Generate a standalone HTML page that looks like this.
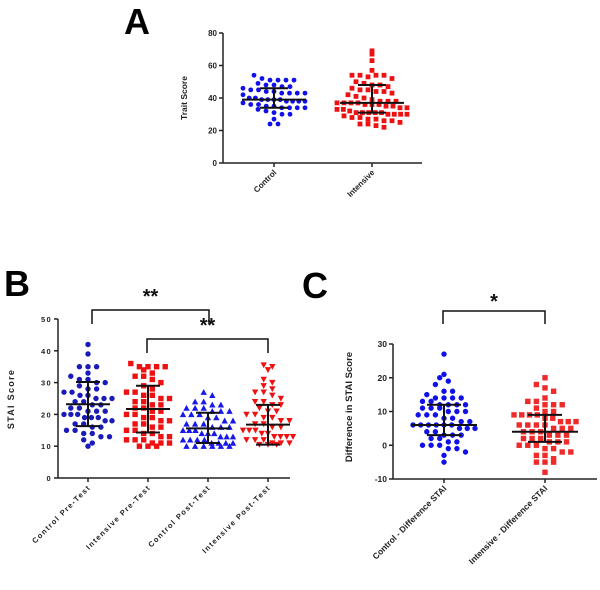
<!DOCTYPE html>
<html><head><meta charset="utf-8">
<style>
html,body{margin:0;padding:0;background:#fff;}
svg{display:block;font-family:"Liberation Sans",Arial,sans-serif;}
</style></head>
<body>
<svg id="fig" width="600" height="590" viewBox="0 0 600 590" xmlns="http://www.w3.org/2000/svg">
<rect width="600" height="590" fill="#fff"/>
<text x="124" y="34" font-size="36" font-weight="bold">A</text>
<text x="4" y="296" font-size="36" font-weight="bold">B</text>
<text x="302" y="298" font-size="36" font-weight="bold">C</text>
</svg>
<script>
// ---- Panel A data ----
const aCategories = ["Control","Intensive"];
const aControl = [54,52,51,51,51,51,49,48,48,47,47,46,45,45,44,44,43,43,43,43,42,40,40,39,39,39,39,38,38,38,38,37,36,36,35,35,34,34,34,34,33,32,31,30,30,27,24,24];
const aIntensive = [69,67,63,57,54,54,53,54,54,52,50,49,48,48,47,46,45,45,44,44,43,42,41,40,39,38,38,38,37,37,37,37,36,36,36,35,35,34,34,33,33,32,31,31,31,31,31,30,30,30,30,29,28,28,27,27,26,26,25,24,24,23,22];
const aMean = [39,37];
const aLow = [34,31];
const aHigh = [46,48];
const aTicks = [0,20,40,60,80];
// ---- Panel B data ----
const bCategories = ["Control Pre-Test","Intensive Pre-Test","Control Post-Test","Intensive Post-Test"];
const bCPre = [42,39,35,35,35,33,32,31,31,30,30,29,28,28,27,27,26,26,25,25,25,24,24,23,23,22,22,21,21,21,20,20,20,19,19,19,18,18,17,17,16,16,15,15,14,14,13,13,12,11,10];
const bIPre = [36,35,35,35,35,34,33,32,32,31,30,29,28,27,27,26,26,25,25,24,24,23,23,22,22,21,21,20,20,19,19,18,18,17,17,16,16,15,15,14,14,13,13,12,12,12,11,11,11,10,10,10];
const bCPost = [27,26,24,24,23,23,22,22,22,21,21,21,20,20,20,19,19,18,18,17,17,17,16,16,16,15,15,15,14,14,14,13,13,13,12,12,12,12,11,11,11,11,10,10,10,10,10,10];
const bIPost = [35.5,35,34,31,30,29,28,27,27,26,25,24,24,23,23,22,21,21,20,20,19,19,18,18,17,17,16,16,15,15,15,14,14,13,13,13,13,12,12,12,11,11,11,10.5,10.5,10.5];
const bMean = [23.2,21.7,15.6,16.8];
const bLow = [16.3,14.3,11,10.5];
const bHigh = [30.2,29,20.5,23];
const bTicks = [0,10,20,30,40,50];
// ---- Panel C data ----
const cCategories = ["Control - Difference STAI","Intensive - Difference STAI"];
const cControl = [27,21,20,19,18,16,16,15,14,14,14,14,13,13,12,12,12,12,11,11,11,10,10,10,9,9,9,8,8,7,7,6,6,6,6,6,6,5,5,5,4,4,3,3,3,2,2,1,1,0,0,0,-1,-1,-2,-3,-5];
const cIntensive = [20,18,17,16,14,13,13,12,12,12,11,10,10,9,9,9,9,8,8,7,7,7,6,6,6,6,5,5,5,4,4,4,3,3,3,2,2,2,1,1,1,0,0,0,-1,-1,-2,-2,-3,-3,-4,-5,-5,-5,-8];
const cMean = [6,4];
const cLow = [3,1];
const cHigh = [12,9];
const cTicks = [-10,0,10,20,30];

const NS="http://www.w3.org/2000/svg";
const svg=document.getElementById('fig');
function mk(tag,attrs,parent){const e=document.createElementNS(NS,tag);for(const k in attrs)e.setAttribute(k,attrs[k]);(parent||svg).appendChild(e);return e;}

function panel(o){
  const g=mk('g',{});
  
  
  const y=v=>o.y0+(v-o.vmin)*(o.y1-o.y0)/(o.vmax-o.vmin);
  const x=i=>o.xs[i];
  const ya=mk('line',{x1:o.ax,y1:y(o.vmin),x2:o.ax,y2:y(o.vmax),stroke:'#222','stroke-width':1.5},g);
  
  const xa=mk('line',{x1:o.ax,y1:y(o.vmin),x2:o.axEnd,y2:y(o.vmin),stroke:'#222','stroke-width':1.5},g);
  
  o.ticks.forEach(t=>{
    mk('line',{x1:o.ax-4,y1:y(t),x2:o.ax,y2:y(t),stroke:'#222','stroke-width':1.5},g);
    const tl=mk('text',{x:o.ax-6,y:y(t)+3,'font-size':o.fs,'font-weight':'bold','text-anchor':'end',fill:'#222','letter-spacing':o.ls},g);
    tl.textContent=t;
    
  });
  const yt=mk('text',{x:o.ytx,y:o.yty,'font-size':o.tfs,'font-weight':'bold','text-anchor':'middle',fill:'#222','letter-spacing':o.ls,transform:`rotate(-90 ${o.ytx} ${o.yty})`},g);
  yt.textContent=o.ytitle;
  
  o.cats.forEach((c,i)=>{
    mk('line',{x1:x(i),y1:y(o.vmin),x2:x(i),y2:y(o.vmin)+4,stroke:'#222','stroke-width':1.5},g);
    const lx=x(i)+3,ly=y(o.vmin)+10;
    const tl=mk('text',{x:lx,y:ly,'font-size':o.fs,'font-weight':'bold','text-anchor':'end',fill:'#222','letter-spacing':o.ls,transform:`rotate(-45 ${lx} ${ly})`},g);
    tl.textContent=c;
    
  });
  o.series.forEach((vals,i)=>{
    const bins={};
    vals.forEach(v=>{const py=y(v);const b=Math.round(py/(o.r*2+2.2));(bins[b]=bins[b]||[]).push(py);});
    for(const b in bins){
      const arr=bins[b];const k=arr.length;
      const sp=k>1?Math.min(o.r*2+3.2,o.maxW[i]/(k-1)):0;
      arr.forEach((py,j)=>{
        const px=x(i)+(j-(k-1)/2)*sp;
        let m;
        if(o.shapes[i]==='circle') m=mk('circle',{cx:px,cy:py,r:o.r,fill:o.colors[i]},g);
        else if(o.shapes[i]==='square') m=mk('rect',{x:px-o.r,y:py-o.r,width:o.r*2,height:o.r*2,fill:o.colors[i]},g);
        else if(o.shapes[i]==='up') m=mk('polygon',{points:`${px},${py-o.r-0.5} ${px-o.r-0.5},${py+o.r} ${px+o.r+0.5},${py+o.r}`,fill:o.colors[i]},g);
        else m=mk('polygon',{points:`${px},${py+o.r+0.5} ${px-o.r-0.5},${py-o.r} ${px+o.r+0.5},${py-o.r}`,fill:o.colors[i]},g);
        
        
      });
    }
  });
  o.cats.forEach((c,i)=>{
    const eb=mk('g',{stroke:'#111','stroke-width':2},g);
    
    mk('line',{x1:x(i)-o.mw,y1:y(o.mean[i]),x2:x(i)+o.mw,y2:y(o.mean[i])},eb);
    mk('line',{x1:x(i),y1:y(o.low[i]),x2:x(i),y2:y(o.high[i])},eb);
    mk('line',{x1:x(i)-o.cw,y1:y(o.low[i]),x2:x(i)+o.cw,y2:y(o.low[i])},eb);
    mk('line',{x1:x(i)-o.cw,y1:y(o.high[i]),x2:x(i)+o.cw,y2:y(o.high[i])},eb);
  });
}
function bracket(x1,x2,yt,yb,label,ty,fs){
  const p=mk('path',{d:`M${x1},${yb} L${x1},${yt} L${x2},${yt} L${x2},${yb}`,fill:'none',stroke:'#111','stroke-width':1.5});
  
  const t=mk('text',{x:(x1+x2)/2,y:ty,'font-size':fs,'font-weight':'bold','text-anchor':'middle',fill:'#111'});
  t.textContent=label;
  
}

panel({name:'panel-a-chart',vmin:0,vmax:80,y0:163,y1:33,ax:223,axEnd:422,xs:[274,372],cats:aCategories,
  series:[aControl,aIntensive],shapes:['circle','square'],colors:['#1010e8','#ee1111'],r:2.4,maxW:[62,70],
  mean:aMean,low:aLow,high:aHigh,mw:32,cw:14,ticks:aTicks,fs:8,tfs:8.5,ls:0,ytitle:'Trait Score',ytx:187,yty:98});
panel({name:'panel-b-chart',vmin:0,vmax:50,y0:478,y1:319,ax:58,axEnd:290,xs:[88,148,208,268],cats:bCategories,
  series:[bCPre,bIPre,bCPost,bIPost],shapes:['circle','square','up','down'],colors:['#1a1ab8','#ee1111','#1818e8','#ee1111'],r:2.7,maxW:[48,48,50,50],
  mean:bMean,low:bLow,high:bHigh,mw:22,cw:12,ticks:bTicks,fs:7.5,tfs:9,ls:1.3,ytitle:'STAI Score',ytx:14,yty:399});
panel({name:'panel-c-chart',vmin:-10,vmax:30,y0:479,y1:344,ax:393,axEnd:597,xs:[444,545],cats:cCategories,
  series:[cControl,cIntensive],shapes:['circle','square'],colors:['#1010e8','#ee2a2a'],r:2.7,maxW:[62,62],
  mean:cMean,low:cLow,high:cHigh,mw:33,cw:17,ticks:cTicks,fs:8.5,tfs:9.5,ls:0,ytitle:'Difference in STAI Score',ytx:352,yty:407});
bracket(92,209,310,324,'**',303,20);
bracket(147,268,339,353,'**',332,20);
bracket(443,545,311,324,'*',308,20);
</script>
</body></html>
